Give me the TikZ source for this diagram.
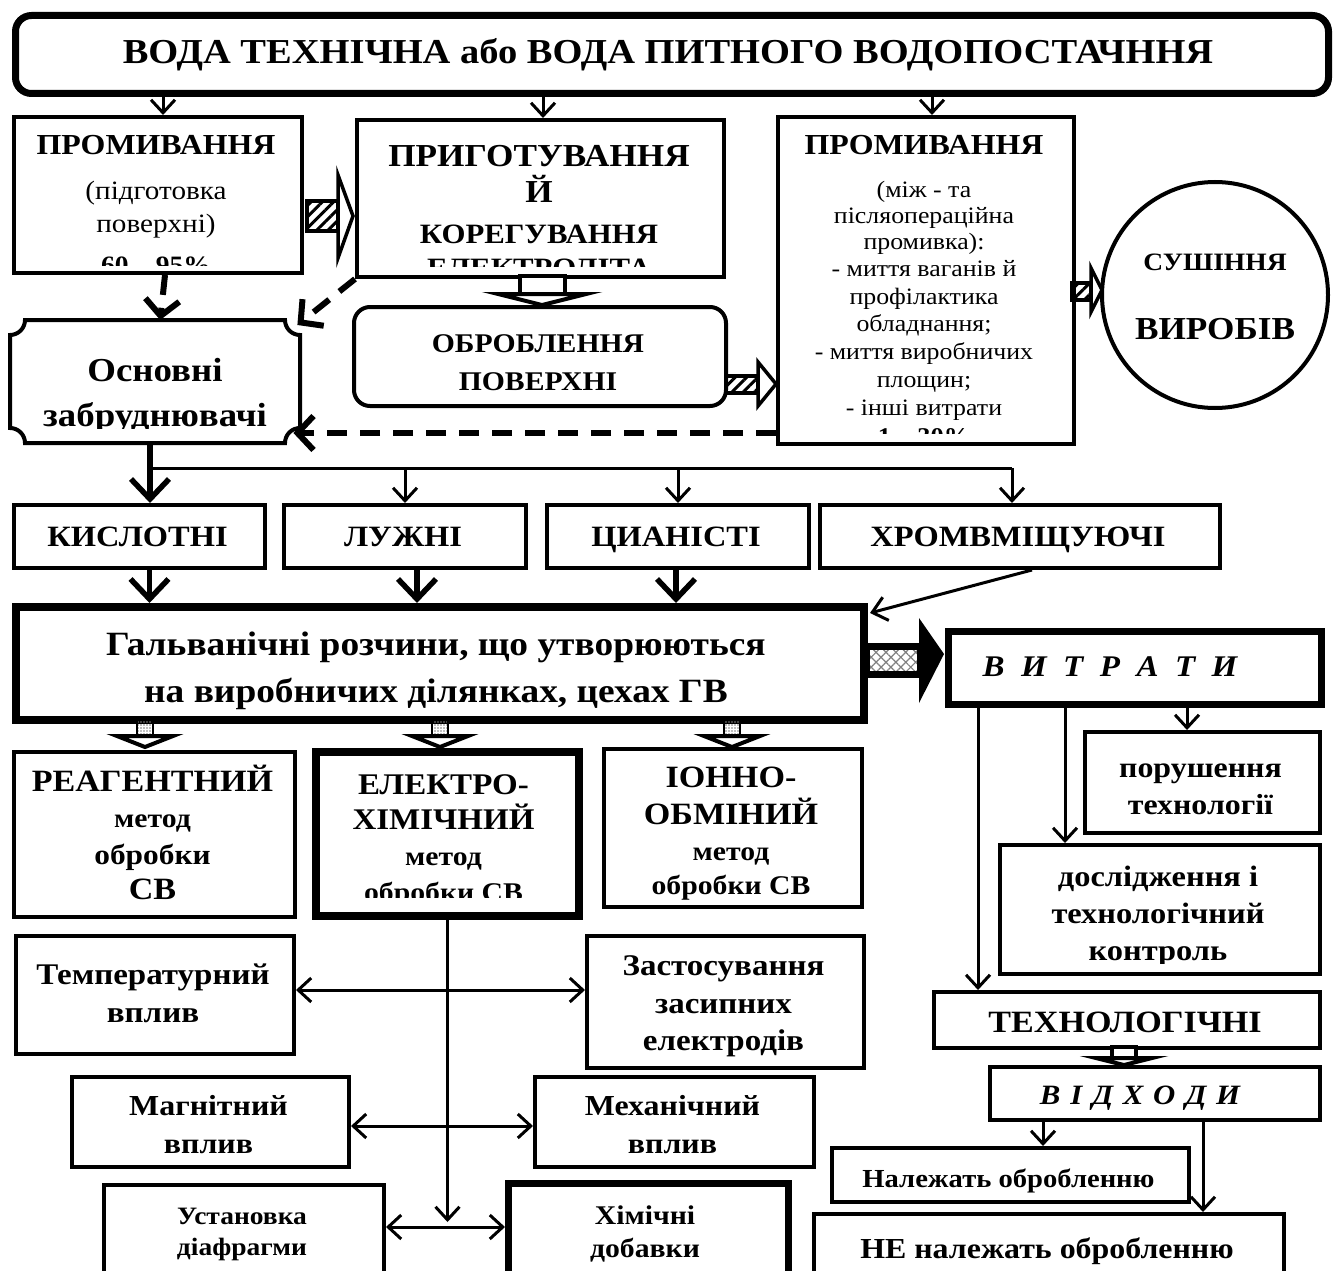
\documentclass[tikz,border=0pt]{standalone}
\usepackage{fontspec}
\setmainfont{Liberation Serif}[FakeStretch=1.1]
\usetikzlibrary{arrows.meta,patterns.meta,calc}
\newcommand\fz[1]{\fontsize{#1pt}{#1pt}\selectfont}
% \bx[opts]{name}{x1}{y1}{x2}{y2}
\newcommand\bx[6][]{\node[box,#1,minimum width={#5-#3},minimum height={#6-#4}] (#2) at (#3,#4) {};}
\newcommand\gapA{\hspace{0.55em}}
\newcommand\gapB{\hspace{0.35em}}
\begin{document}
\begin{tikzpicture}[x=1pt,y=-1pt,
  box/.style={draw,line width=4pt,rectangle,inner sep=0pt,anchor=north west},
  lb/.style={anchor=base,inner sep=0pt,font=\bfseries\fz{#1}},
  lr/.style={anchor=base,inner sep=0pt,font=\fz{#1}},
  li/.style={anchor=base,inner sep=0pt,font=\bfseries\itshape\fz{#1}},
  arr/.style={line width=3pt,-{Straight Barb[length=13pt,width=24pt]}},
  darr/.style={line width=3pt,{Straight Barb[length=13pt,width=24pt]}-{Straight Barb[length=13pt,width=24pt]}},
  bigarr/.style={line width=5.5pt,-{Straight Barb[length=20pt,width=38pt]}},
  dasharr/.style={line width=6pt,dash pattern=on 20pt off 13pt,-{Straight Barb[length=16pt,width=34pt]}},
  hatch/.style={pattern={Lines[angle=45,distance=8pt,line width=3pt]}},
  blk/.style={draw,line width=3.5pt,line join=miter},
]
\fill[white] (0,0) rectangle (1336,1271);
\useasboundingbox (0,0) rectangle (1336,1271);

% ---------- title
\node[box,line width=7pt,rounded corners=16pt,minimum width=1313,minimum height=78] (T) at (12,12) {};
\node[lb=35] at (668,64) {ВОДА ТЕХНІЧНА або ВОДА ПИТНОГО ВОДОПОСТАЧННЯ};

% ---------- A
\bx{A}{12}{115}{300}{271}
\begin{scope}\clip (16,119) rectangle (296,265);
\node[lb=29] at (156,155) {ПРОМИВАННЯ};
\node[lr=26.5] at (156,199) {(підготовка};
\node[lr=26.5] at (156,232) {поверхні)};
\node[lb=25] at (156,273) {60 – 95\%};
\end{scope}

% ---------- B
\bx{B}{355}{118}{722}{275}
\begin{scope}\clip (359,122) rectangle (718,266);
\node[lb=32] at (539,167) {ПРИГОТУВАННЯ};
\node[lb=32] at (539,202) {Й};
\node[lb=28] at (539,243) {КОРЕГУВАННЯ};
\node[lb=28] at (539,277) {ЕЛЕКТРОЛІТА};
\end{scope}

% ---------- C
\bx{C}{776}{115}{1072}{442}
\begin{scope}\clip (780,119) rectangle (1068,433);
\node[lb=29] at (924,155) {ПРОМИВАННЯ};
\node[lr=23.5] at (924,197) {(між - та};
\node[lr=23.5] at (924,223) {післяопераційна};
\node[lr=23.5] at (924,249) {промивка):};
\node[lr=23.5] at (924,276) {- миття ваганів й};
\node[lr=23.5] at (924,304) {профілактика};
\node[lr=23.5] at (924,331) {обладнання;};
\node[lr=23.5] at (924,359) {- миття виробничих};
\node[lr=23.5] at (924,387) {площин;};
\node[lr=23.5] at (924,415) {- інші витрати};
\node[lb=24] at (924,444) {1 – 30\%};
\end{scope}

% ---------- D
\node[draw,circle,line width=4pt,minimum size=226,inner sep=0pt] (D) at (1215,295) {};
\node[lb=25] at (1215,270) {СУШІННЯ};
\node[lb=32] at (1215,339) {ВИРОБІВ};

% ---------- E
\node[box,rounded corners=16pt,minimum width=372,minimum height=99] (E) at (352,305) {};
\node[lb=27] at (538,352) {ОБРОБЛЕННЯ};
\node[lb=27] at (538,390) {ПОВЕРХНІ};

% ---------- F
\node[inner sep=0pt,minimum width=290,minimum height=123,anchor=north west] (F) at (10,320) {};
\draw[line width=4pt] (25,320) -- (285,320) arc[start angle=180,end angle=90,radius=15]
  -- (300,428) arc[start angle=270,end angle=180,radius=15]
  -- (25,443) arc[start angle=0,end angle=-90,radius=15]
  -- (10,335) arc[start angle=90,end angle=0,radius=15] -- cycle;
\begin{scope}\clip (14,324) rectangle (296,428);
\node[lb=33.5] at (155,381) {Основні};
\node[lb=33.5] at (155,426) {забруднювачі};
\end{scope}

% ---------- row of types
\bx{K}{12}{503}{263}{566}
\bx{L}{282}{503}{524}{566}
\bx{Ts}{545}{503}{807}{566}
\bx{X}{818}{503}{1218}{566}
\node[lb=29.5] at (137.5,546) {КИСЛОТНІ};
\node[lb=29.5] at (403,546) {ЛУЖНІ};
\node[lb=29.5] at (676,546) {ЦИАНІСТІ};
\node[lb=29.5] at (1018,546) {ХРОМВМІЩУЮЧІ};

% ---------- G
\bx[line width=8pt]{G}{12}{603}{860}{716}
\node[lb=34] at (436,655) {Гальванічні розчини, що утворюються};
\node[lb=34] at (436,702) {на виробничих ділянках, цехах ГВ};

% ---------- H
\bx[line width=7pt]{H}{945}{628}{1318}{701}
\node[li=30] at (1110,676) {В\gapA И\gapA Т\gapA Р\gapA А\gapA Т\gapA И};

% ---------- methods
\bx{R}{12}{750}{293}{915}
\node[lb=31] at (152.5,791) {РЕАГЕНТНИЙ};
\node[lb=27] at (152.5,827) {метод};
\node[lb=28.5] at (152.5,864) {обробки};
\node[lb=31] at (152.5,899) {СВ};

\bx[line width=8pt]{EL}{312}{748}{575}{912}
\begin{scope}\clip (318,754) rectangle (569,897);
\node[lb=30] at (443.5,794) {ЕЛЕКТРО-};
\node[lb=30] at (443.5,829) {ХІМІЧНИЙ};
\node[lb=27] at (443.5,865) {метод};
\node[lb=27] at (443.5,901) {обробки СВ};
\end{scope}

\bx{IO}{602}{747}{860}{905}
\node[lb=31] at (731,787) {ІОННО-};
\node[lb=31] at (731,824) {ОБМІНИЙ};
\node[lb=27] at (731,860) {метод};
\node[lb=27] at (731,894) {обробки СВ};

% ---------- lower boxes
\bx{Tm}{14}{934}{292}{1052}
\node[lb=30] at (153,984) {Температурний};
\node[lb=30] at (153,1022) {вплив};
\bx{Zs}{585}{934}{862}{1066}
\node[lb=30] at (723.5,975) {Застосування};
\node[lb=30] at (723.5,1013) {засипних};
\node[lb=30] at (723.5,1050) {електродів};
\bx{Mg}{70}{1075}{347}{1165}
\node[lb=29] at (208.5,1115) {Магнітний};
\node[lb=29] at (208.5,1153) {вплив};
\bx{Mh}{533}{1075}{812}{1165}
\node[lb=29] at (672.5,1115) {Механічний};
\node[lb=29] at (672.5,1153) {вплив};
\bx{Us}{102}{1183}{382}{1300}
\node[lb=25] at (242,1224) {Установка};
\node[lb=25] at (242,1255) {діафрагми};
\bx[line width=7pt]{Hm}{505}{1180}{785}{1300}
\node[lb=27] at (645,1224) {Хімічні};
\node[lb=27] at (645,1257) {добавки};

% ---------- right column
\bx{Pr}{1083}{730}{1318}{831}
\node[lb=29] at (1200.5,777) {порушення};
\node[lb=29] at (1200.5,814) {технології};
\bx{Ds}{998}{843}{1318}{972}
\begin{scope}\clip (1002,847) rectangle (1314,963);
\node[lb=29.5] at (1158,886) {дослідження і};
\node[lb=29.5] at (1158,923) {технологічний};
\node[lb=29.5] at (1158,960) {контроль};
\end{scope}
\bx{TX}{932}{990}{1318}{1046}
\node[lb=31] at (1125,1032) {ТЕХНОЛОГІЧНІ};
\bx{VD}{988}{1065}{1318}{1118}
\node[li=28] at (1140,1104) {В\gapB І\gapB Д\gapB Х\gapB О\gapB Д\gapB И};
\bx{NL}{830}{1146}{1187}{1200}
\node[lb=26] at (1008.5,1187) {Належать обробленню};
\bx{NN}{812}{1212}{1282}{1272}
\node[lb=29] at (1047,1258) {НЕ належать обробленню};

% ---------- helper coordinates
\coordinate (xa) at (163,0);
\coordinate (xb) at (543,0);
\coordinate (xc) at (932,0);
\coordinate (xf) at (150,0);
\coordinate (br) at (150,468);
\coordinate (xx) at (1012,0);
\coordinate (cq) at (0,433);
\coordinate (elend) at (0,1222);
\coordinate (ya) at (0,990);
\coordinate (yb) at (0,1126);
\coordinate (yc) at (0,1227);
\coordinate (h1) at (978,0);
\coordinate (h2) at (1065,0);
\coordinate (h3) at (1187,0);
\coordinate (v1) at (1043,0);
\coordinate (v2) at (1203,0);

% ---------- connectors
\draw[arr] (T.south -| xa) -- (A.north -| xa);
\draw[arr] (T.south -| xb) -- (B.north -| xb);
\draw[arr] (T.south -| xc) -- (C.north -| xc);

\draw[dasharr] ($(A.south)+(7,0)$) -- ($(F.north)+(5,0)$);
\draw[dasharr] (B.south west) -- ($(F.north east)+(-3,5)$);
\draw[dasharr] (C.west |- cq) -- ($(F.east |- cq)+(-7,0)$);

\draw[bigarr] (F.south -| xf) -- (K.north -| xf);
\draw[line width=3pt] (br) -- (br -| xx);
\draw[arr] (L.north |- br) -- (L.north);
\draw[arr] (Ts.north |- br) -- (Ts.north);
\draw[arr] (br -| xx) -- (X.north -| xx);

\draw[bigarr] ($(K.south)+(10,0)$) -- ($(K.south |- G.north)+(10,0)$);
\draw[bigarr] ($(L.south)+(12,0)$) -- ($(L.south |- G.north)+(12,0)$);
\draw[bigarr] ($(Ts.south)+(-2,0)$) -- ($(Ts.south |- G.north)+(-2,0)$);
\draw[line width=3pt,-{Straight Barb[length=14pt,width=24pt]}] ($(X.south)+(12,0)$) -- ($(G.north east)+(2,10)$);

\draw[arr] (EL.south) -- (EL.south |- elend);
\draw[darr] (Tm.east |- ya) -- (Zs.west |- ya);
\draw[darr] (Mg.east |- yb) -- (Mh.west |- yb);
\draw[darr] (Us.east |- yc) -- (Hm.west |- yc);

\draw[arr] (H.south -| h1) -- (TX.north -| h1);
\draw[arr] (H.south -| h2) -- (Ds.north -| h2);
\draw[arr] (H.south -| h3) -- (Pr.north -| h3);
\draw[arr] (VD.south -| v1) -- (NL.north -| v1);
\draw[arr] (VD.south -| v2) -- (NN.north -| v2);

% ---------- block arrows
% A -> B hatched
\path[hatch,blk] (307,201) rectangle (338,231);
\path[blk,fill=white] (338,175) -- (353,216) -- (338,258) -- cycle;
% E -> C hatched
\path[hatch,blk] (726,376) rectangle (758,393);
\path[blk,fill=white] (758,362) -- (776,384) -- (758,406) -- cycle;
% C -> D hatched
\path[hatch,blk] (1072,283) rectangle (1091,300);
\path[blk,fill=white] (1091,268) -- (1102,290) -- (1091,312) -- cycle;
% B -> E hollow
\path[blk,fill=white] (520,276) rectangle (565,294);
\path[blk,line width=4pt,fill=white] (498,294) -- (586,294) -- (542,305) -- cycle;
% TX -> VD hollow
\path[blk,fill=white] (1112,1047) rectangle (1136,1058);
\path[blk,line width=4pt,fill=white] (1096,1058) -- (1152,1058) -- (1124,1065) -- cycle;
% G -> H cross-hatched
\path[draw,line width=7pt,pattern={Hatch[angle=45,distance=7pt,line width=1.2pt]},pattern color=gray] (866,646) rectangle (920,674);
\fill (919,618) -- (944,654) -- (919,703) -- cycle;
% G -> methods dotted
\foreach \xx in {145,440,732}{
  \path[draw,line width=2.5pt,pattern={Dots[distance=3pt,radius=0.8pt]},pattern color=gray] (\xx-8,719) rectangle (\xx+8,737);
  \path[blk,line width=4pt,fill=white] (\xx-28,736) -- (\xx+28,736) -- (\xx,747) -- cycle;
}
\end{tikzpicture}
\end{document}
